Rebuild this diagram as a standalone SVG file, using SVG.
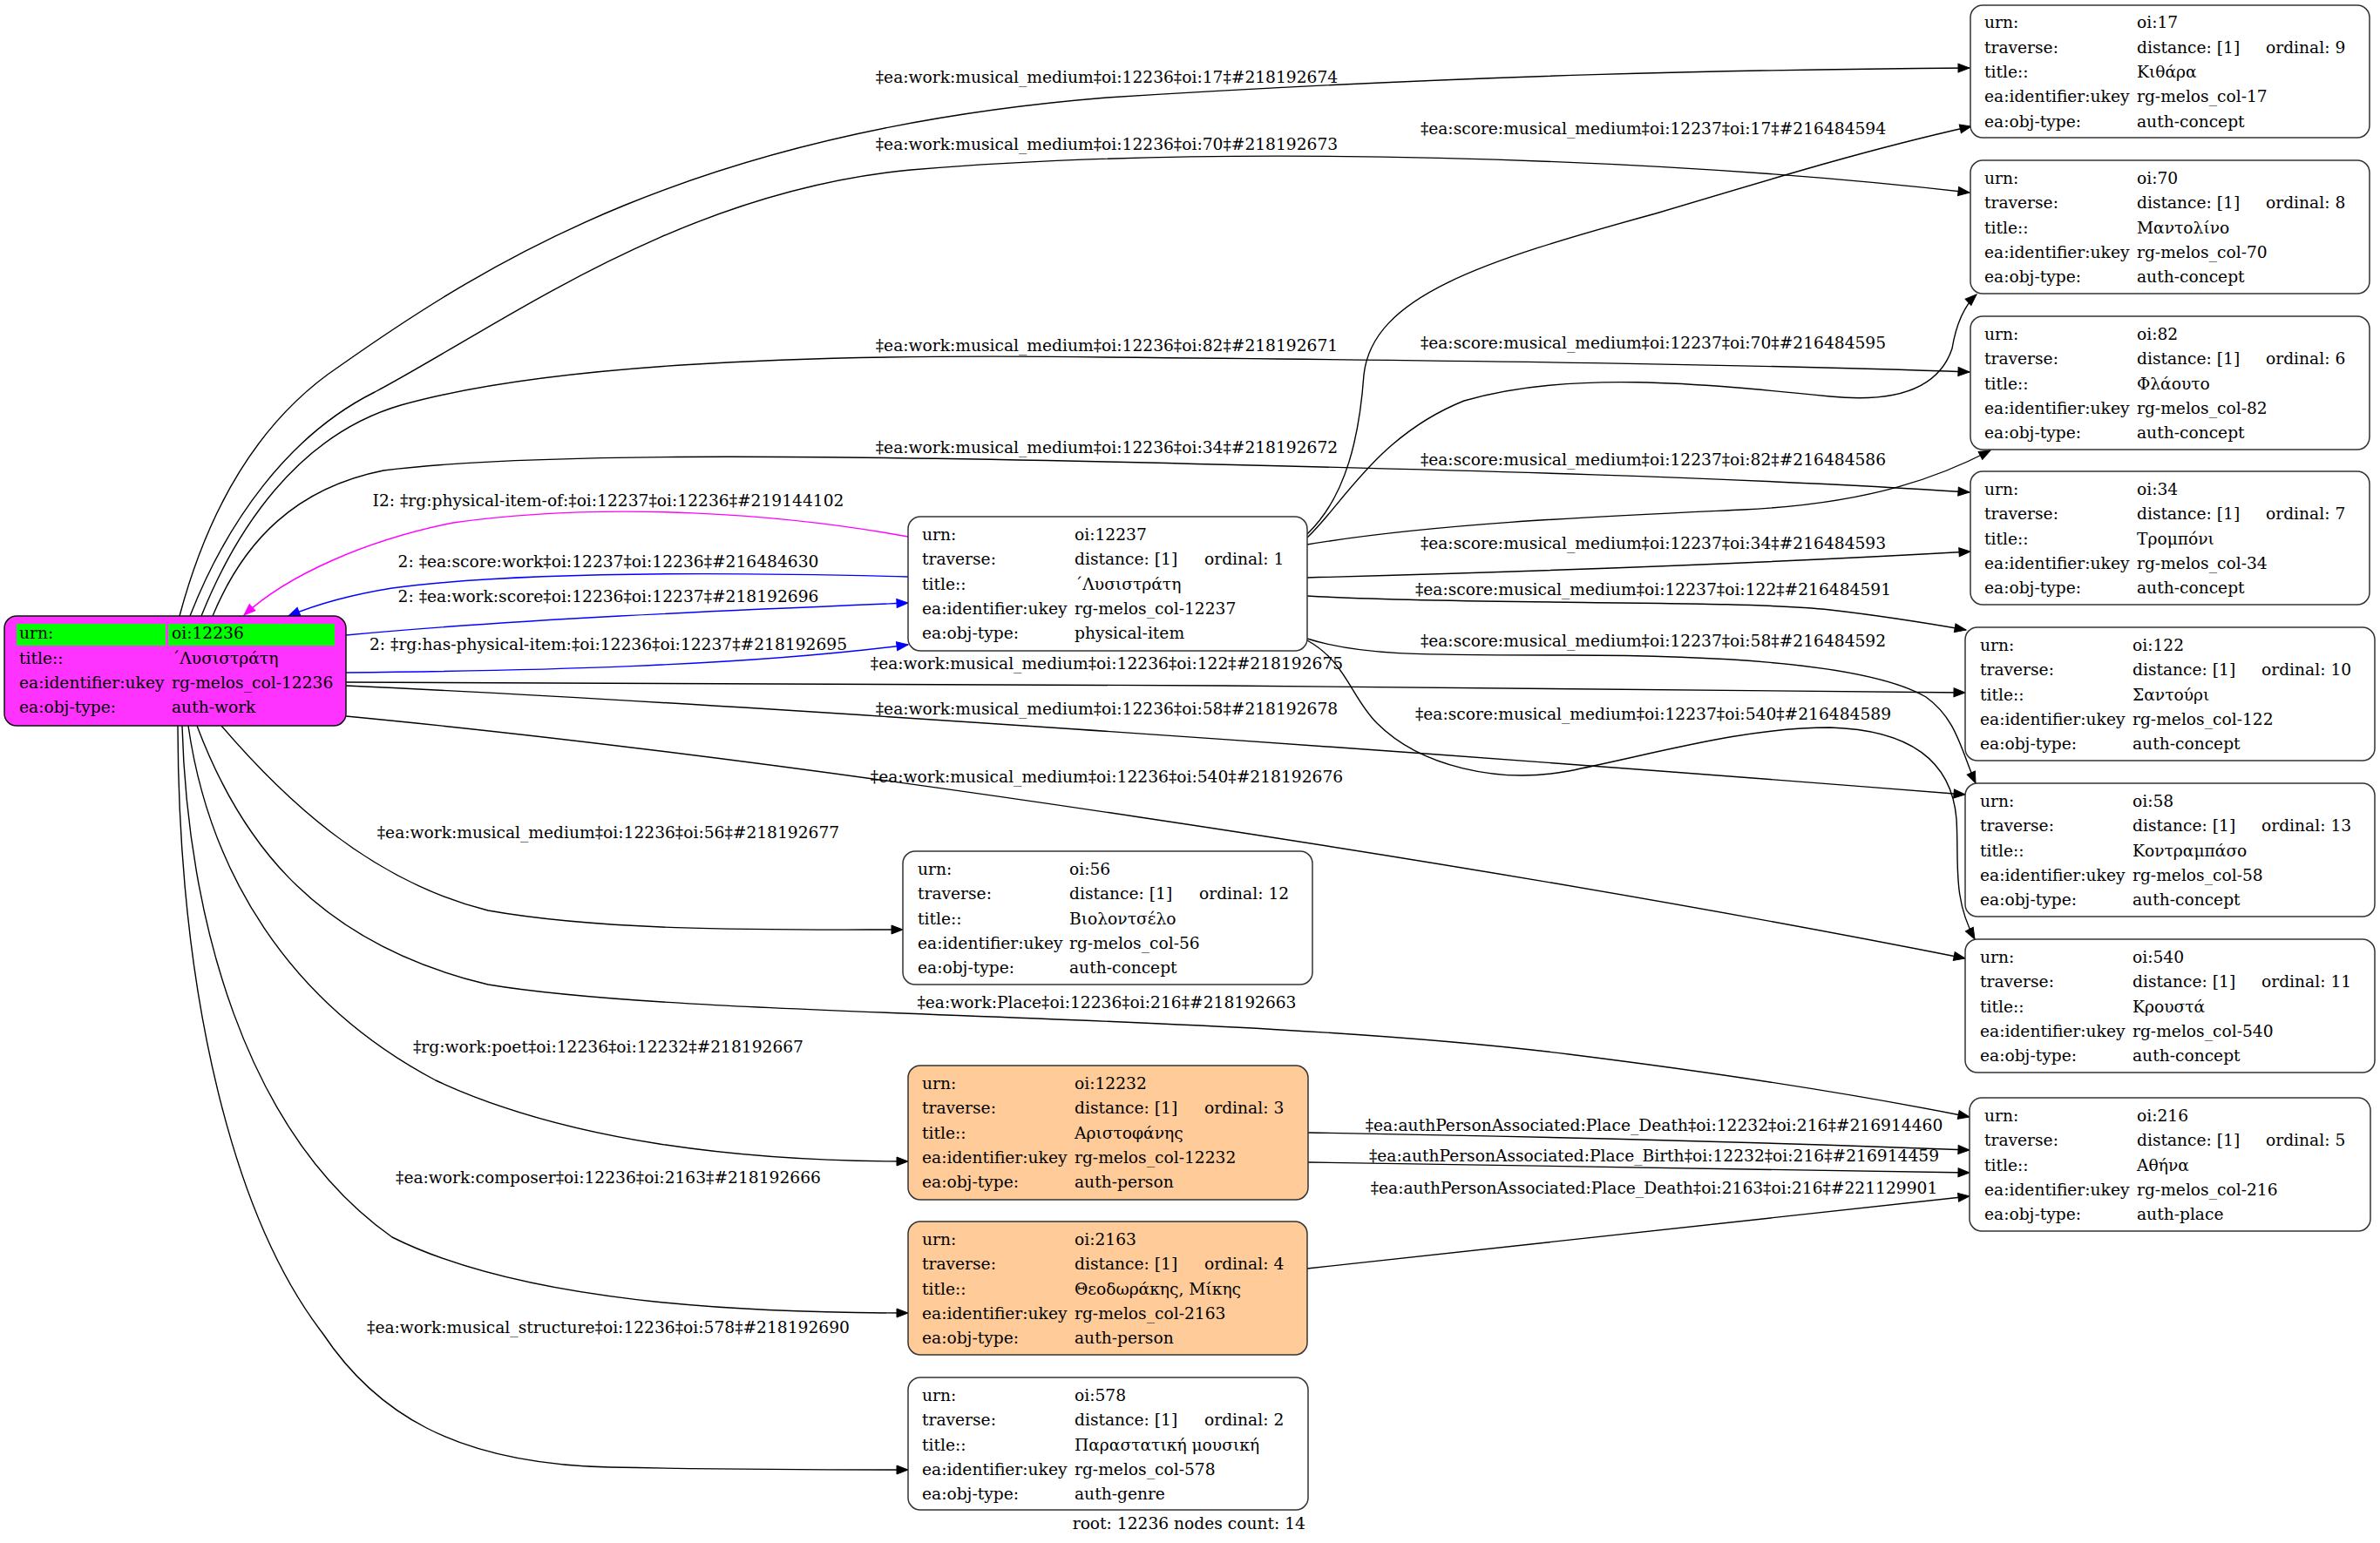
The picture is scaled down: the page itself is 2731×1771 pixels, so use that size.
<svg xmlns="http://www.w3.org/2000/svg" width="2731" height="1771" viewBox="0 0 2731 1771">
<style>
text{font-family:"DejaVu Serif","Liberation Serif",serif;font-size:18.67px;fill:#000}
.box{fill:#fff;stroke:#333;stroke-width:1.5}
.person{fill:#ffcc99;stroke:#333;stroke-width:1.5}
.rootbox{fill:#ff33ff;stroke:#111;stroke-width:1.5}
.e{fill:none;stroke:#000;stroke-width:1.4;marker-end:url(#ab)}
.eb{fill:none;stroke:#0000ff;stroke-width:1.4;marker-end:url(#au)}
.em{fill:none;stroke:#ff00ff;stroke-width:1.4;marker-end:url(#am)}
.l{text-anchor:middle}
</style>
<defs>
<marker id="ab" markerUnits="userSpaceOnUse" markerWidth="16" markerHeight="12" refX="13" refY="5" orient="auto" overflow="visible"><path d="M0,0 L13,5 L0,10 z" fill="#000" stroke="#000" stroke-width="1"/></marker>
<marker id="au" markerUnits="userSpaceOnUse" markerWidth="16" markerHeight="12" refX="13" refY="5" orient="auto" overflow="visible"><path d="M0,0 L13,5 L0,10 z" fill="#0000ff" stroke="#0000ff" stroke-width="1"/></marker>
<marker id="am" markerUnits="userSpaceOnUse" markerWidth="16" markerHeight="12" refX="13" refY="5" orient="auto" overflow="visible"><path d="M0,0 L13,5 L0,10 z" fill="#ff00ff" stroke="#ff00ff" stroke-width="1"/></marker>
</defs>
<rect width="2731" height="1771" fill="#fff"/>

<g id="connectors">
<path class="e" d="M206,707 C240,580 300,480 390,420 C560,300 800,150 1270,112 C1700,85 2000,80 2260,78"/>
<path class="e" d="M218,707 C260,600 330,500 430,450 C580,370 780,220 1045,195 C1400,165 1900,180 2260,221"/>
<path class="e" d="M231,707 C270,610 340,500 460,465 C620,420 900,405 1270,410 C1700,414 2000,418 2260,427"/>
<path class="e" d="M244,707 C280,620 340,560 440,540 C600,520 900,522 1270,530 C1700,540 2000,548 2260,565"/>
<path class="e" d="M397,783 C900,784 1700,787 2255,795"/>
<path class="e" d="M397,787 C800,805 1600,860 2255,912"/>
<path class="e" d="M397,822 C900,870 1700,990 2255,1100"/>
<path class="e" d="M254,833 C320,910 420,1010 560,1045 C700,1070 900,1067 1036,1067"/>
<path class="e" d="M226,833 C270,950 350,1080 560,1130 C800,1170 1400,1160 1800,1210 C2000,1235 2150,1260 2260,1282"/>
<path class="e" d="M216,833 C240,1000 330,1150 500,1240 C650,1310 850,1333 1042,1333"/>
<path class="e" d="M209,833 C215,1050 280,1300 450,1420 C600,1495 850,1507 1042,1507"/>
<path class="e" d="M204,833 C205,1150 270,1400 370,1530 C430,1620 520,1680 700,1684 C850,1687 950,1687 1042,1687"/>
<path class="em" d="M1042,616 C900,590 700,575 520,600 C420,620 330,660 280,706"/>
<path class="eb" d="M1042,662 C850,657 600,655 450,675 C400,683 360,695 331,707"/>
<path class="eb" d="M397,729 C600,710 850,700 1042,692"/>
<path class="eb" d="M397,772 C600,770 850,765 1042,740"/>
<path class="e" d="M1500,613 C1545,570 1560,500 1565,430 C1575,340 1700,300 1900,245 C2050,200 2150,170 2262,145"/>
<path class="e" d="M1500,617 C1540,580 1580,500 1680,460 C1800,425 1950,440 2100,455 C2200,465 2230,430 2240,400 C2245,370 2255,350 2268,338"/>
<path class="e" d="M1500,625 C1650,600 1850,592 2000,585 C2150,578 2230,545 2284,517"/>
<path class="e" d="M1500,663 C1800,655 2050,645 2261,633"/>
<path class="e" d="M1500,684 C1700,695 1990,688 2100,700 C2170,708 2210,715 2256,723"/>
<path class="e" d="M1500,733 C1560,752 1620,752 1800,752 C2000,752 2150,765 2210,800 C2245,825 2250,860 2267,899"/>
<path class="e" d="M1500,735 C1545,760 1550,800 1580,830 C1630,880 1720,900 1800,885 C1900,865 2000,835 2100,835 C2200,838 2240,880 2245,940 C2248,990 2240,1030 2266,1078"/>
<path class="e" d="M1501,1300 C1800,1305 2050,1312 2260,1320"/>
<path class="e" d="M1501,1334 C1800,1340 2050,1343 2260,1346"/>
<path class="e" d="M1500,1456 C1800,1425 2050,1395 2260,1373"/>

<text class="l" x="1270" y="95">‡ea:work:musical_medium‡oi:12236‡oi:17‡#218192674</text>
<text class="l" x="1270" y="172">‡ea:work:musical_medium‡oi:12236‡oi:70‡#218192673</text>
<text class="l" x="1270" y="403">‡ea:work:musical_medium‡oi:12236‡oi:82‡#218192671</text>
<text class="l" x="1270" y="520">‡ea:work:musical_medium‡oi:12236‡oi:34‡#218192672</text>
<text class="l" x="1270" y="768">‡ea:work:musical_medium‡oi:12236‡oi:122‡#218192675</text>
<text class="l" x="1270" y="820">‡ea:work:musical_medium‡oi:12236‡oi:58‡#218192678</text>
<text class="l" x="1270" y="898">‡ea:work:musical_medium‡oi:12236‡oi:540‡#218192676</text>
<text class="l" x="698" y="962">‡ea:work:musical_medium‡oi:12236‡oi:56‡#218192677</text>
<text class="l" x="1270" y="1157">‡ea:work:Place‡oi:12236‡oi:216‡#218192663</text>
<text class="l" x="698" y="1208">‡rg:work:poet‡oi:12236‡oi:12232‡#218192667</text>
<text class="l" x="698" y="1358">‡ea:work:composer‡oi:12236‡oi:2163‡#218192666</text>
<text class="l" x="698" y="1530">‡ea:work:musical_structure‡oi:12236‡oi:578‡#218192690</text>
<text class="l" x="698" y="581">I2: ‡rg:physical-item-of:‡oi:12237‡oi:12236‡#219144102</text>
<text class="l" x="698" y="651">2: ‡ea:score:work‡oi:12237‡oi:12236‡#216484630</text>
<text class="l" x="698" y="691">2: ‡ea:work:score‡oi:12236‡oi:12237‡#218192696</text>
<text class="l" x="698" y="746">2: ‡rg:has-physical-item:‡oi:12236‡oi:12237‡#218192695</text>
<text class="l" x="1897" y="154">‡ea:score:musical_medium‡oi:12237‡oi:17‡#216484594</text>
<text class="l" x="1897" y="400">‡ea:score:musical_medium‡oi:12237‡oi:70‡#216484595</text>
<text class="l" x="1897" y="534">‡ea:score:musical_medium‡oi:12237‡oi:82‡#216484586</text>
<text class="l" x="1897" y="630">‡ea:score:musical_medium‡oi:12237‡oi:34‡#216484593</text>
<text class="l" x="1897" y="683">‡ea:score:musical_medium‡oi:12237‡oi:122‡#216484591</text>
<text class="l" x="1897" y="742">‡ea:score:musical_medium‡oi:12237‡oi:58‡#216484592</text>
<text class="l" x="1897" y="826">‡ea:score:musical_medium‡oi:12237‡oi:540‡#216484589</text>
<text class="l" x="1898" y="1298">‡ea:authPersonAssociated:Place_Death‡oi:12232‡oi:216‡#216914460</text>
<text class="l" x="1898" y="1333">‡ea:authPersonAssociated:Place_Birth‡oi:12232‡oi:216‡#216914459</text>
<text class="l" x="1898" y="1370">‡ea:authPersonAssociated:Place_Death‡oi:2163‡oi:216‡#221129901</text>
</g>

<g id="n12236" transform="translate(5,707)">
<rect class="rootbox" x="0" y="0" width="392" height="126" rx="14"/>
<rect x="14" y="9" width="171" height="25" fill="#00ff00"/>
<rect x="188" y="9" width="191" height="25" fill="#00ff00"/>
<text x="17" y="26">urn:</text><text x="192" y="26">oi:12236</text>
<text x="17" y="55">title::</text><text x="192" y="55">΄Λυσιστράτη</text>
<text x="17" y="83">ea:identifier:ukey</text><text x="192" y="83">rg-melos_col-12236</text>
<text x="17" y="111">ea:obj-type:</text><text x="192" y="111">auth-work</text>
</g>

<g id="n12237" transform="translate(1042,593)">
<rect class="box" width="458" height="154" rx="14"/>
<text x="16" y="27">urn:</text><text x="191" y="27">oi:12237</text>
<text x="16" y="55">traverse:</text><text x="191" y="55">distance: [1]</text><text x="340" y="55">ordinal: 1</text>
<text x="16" y="84">title::</text><text x="191" y="84">΄Λυσιστράτη</text>
<text x="16" y="112">ea:identifier:ukey</text><text x="191" y="112">rg-melos_col-12237</text>
<text x="16" y="140">ea:obj-type:</text><text x="191" y="140">physical-item</text>
</g>

<g id="n17" transform="translate(2261,6)">
<rect class="box" width="458" height="152" rx="14"/>
<text x="16" y="26">urn:</text><text x="191" y="26">oi:17</text>
<text x="16" y="54.5">traverse:</text><text x="191" y="54.5">distance: [1]</text><text x="339" y="54.5">ordinal: 9</text>
<text x="16" y="83">title::</text><text x="191" y="83">Κιθάρα</text>
<text x="16" y="111">ea:identifier:ukey</text><text x="191" y="111">rg-melos_col-17</text>
<text x="16" y="139.5">ea:obj-type:</text><text x="191" y="139.5">auth-concept</text>
</g>

<g id="n70" transform="translate(2261,184)">
<rect class="box" width="458" height="153" rx="14"/>
<text x="16" y="26.5">urn:</text><text x="191" y="26.5">oi:70</text>
<text x="16" y="55">traverse:</text><text x="191" y="55">distance: [1]</text><text x="339" y="55">ordinal: 8</text>
<text x="16" y="83.5">title::</text><text x="191" y="83.5">Μαντολίνο</text>
<text x="16" y="112">ea:identifier:ukey</text><text x="191" y="112">rg-melos_col-70</text>
<text x="16" y="140">ea:obj-type:</text><text x="191" y="140">auth-concept</text>
</g>

<g id="n82" transform="translate(2261,363)">
<rect class="box" width="458" height="153" rx="14"/>
<text x="16" y="26.5">urn:</text><text x="191" y="26.5">oi:82</text>
<text x="16" y="55">traverse:</text><text x="191" y="55">distance: [1]</text><text x="339" y="55">ordinal: 6</text>
<text x="16" y="83.5">title::</text><text x="191" y="83.5">Φλάουτο</text>
<text x="16" y="112">ea:identifier:ukey</text><text x="191" y="112">rg-melos_col-82</text>
<text x="16" y="140">ea:obj-type:</text><text x="191" y="140">auth-concept</text>
</g>

<g id="n34" transform="translate(2261,541)">
<rect class="box" width="458" height="153" rx="14"/>
<text x="16" y="26.5">urn:</text><text x="191" y="26.5">oi:34</text>
<text x="16" y="55">traverse:</text><text x="191" y="55">distance: [1]</text><text x="339" y="55">ordinal: 7</text>
<text x="16" y="83.5">title::</text><text x="191" y="83.5">Τρομπόνι</text>
<text x="16" y="112">ea:identifier:ukey</text><text x="191" y="112">rg-melos_col-34</text>
<text x="16" y="140">ea:obj-type:</text><text x="191" y="140">auth-concept</text>
</g>

<g id="n122" transform="translate(2255,720)">
<rect class="box" width="470" height="153" rx="14"/>
<text x="17" y="26.5">urn:</text><text x="192" y="26.5">oi:122</text>
<text x="17" y="55">traverse:</text><text x="192" y="55">distance: [1]</text><text x="340" y="55">ordinal: 10</text>
<text x="17" y="83.5">title::</text><text x="192" y="83.5">Σαντούρι</text>
<text x="17" y="112">ea:identifier:ukey</text><text x="192" y="112">rg-melos_col-122</text>
<text x="17" y="140">ea:obj-type:</text><text x="192" y="140">auth-concept</text>
</g>

<g id="n58" transform="translate(2255,899)">
<rect class="box" width="470" height="153" rx="14"/>
<text x="17" y="26.5">urn:</text><text x="192" y="26.5">oi:58</text>
<text x="17" y="55">traverse:</text><text x="192" y="55">distance: [1]</text><text x="340" y="55">ordinal: 13</text>
<text x="17" y="83.5">title::</text><text x="192" y="83.5">Κοντραμπάσο</text>
<text x="17" y="112">ea:identifier:ukey</text><text x="192" y="112">rg-melos_col-58</text>
<text x="17" y="140">ea:obj-type:</text><text x="192" y="140">auth-concept</text>
</g>

<g id="n540" transform="translate(2255,1078)">
<rect class="box" width="470" height="153" rx="14"/>
<text x="17" y="26.5">urn:</text><text x="192" y="26.5">oi:540</text>
<text x="17" y="55">traverse:</text><text x="192" y="55">distance: [1]</text><text x="340" y="55">ordinal: 11</text>
<text x="17" y="83.5">title::</text><text x="192" y="83.5">Κρουστά</text>
<text x="17" y="112">ea:identifier:ukey</text><text x="192" y="112">rg-melos_col-540</text>
<text x="17" y="140">ea:obj-type:</text><text x="192" y="140">auth-concept</text>
</g>

<g id="n216" transform="translate(2260,1260)">
<rect class="box" width="460" height="153" rx="14"/>
<text x="17" y="26.5">urn:</text><text x="192" y="26.5">oi:216</text>
<text x="17" y="55">traverse:</text><text x="192" y="55">distance: [1]</text><text x="340" y="55">ordinal: 5</text>
<text x="17" y="83.5">title::</text><text x="192" y="83.5">Αθήνα</text>
<text x="17" y="112">ea:identifier:ukey</text><text x="192" y="112">rg-melos_col-216</text>
<text x="17" y="140">ea:obj-type:</text><text x="192" y="140">auth-place</text>
</g>

<g id="n56" transform="translate(1036,977)">
<rect class="box" width="470" height="153" rx="14"/>
<text x="17" y="26.5">urn:</text><text x="191" y="26.5">oi:56</text>
<text x="17" y="55">traverse:</text><text x="191" y="55">distance: [1]</text><text x="340" y="55">ordinal: 12</text>
<text x="17" y="83.5">title::</text><text x="191" y="83.5">Βιολοντσέλο</text>
<text x="17" y="112">ea:identifier:ukey</text><text x="191" y="112">rg-melos_col-56</text>
<text x="17" y="140">ea:obj-type:</text><text x="191" y="140">auth-concept</text>
</g>

<g id="n12232" transform="translate(1042,1223)">
<rect class="person" width="459" height="154" rx="14"/>
<text x="16" y="27">urn:</text><text x="191" y="27">oi:12232</text>
<text x="16" y="55">traverse:</text><text x="191" y="55">distance: [1]</text><text x="340" y="55">ordinal: 3</text>
<text x="16" y="84">title::</text><text x="191" y="84">Αριστοφάνης</text>
<text x="16" y="112">ea:identifier:ukey</text><text x="191" y="112">rg-melos_col-12232</text>
<text x="16" y="140">ea:obj-type:</text><text x="191" y="140">auth-person</text>
</g>

<g id="n2163" transform="translate(1042,1402)">
<rect class="person" width="458" height="153" rx="14"/>
<text x="16" y="27">urn:</text><text x="191" y="27">oi:2163</text>
<text x="16" y="55">traverse:</text><text x="191" y="55">distance: [1]</text><text x="340" y="55">ordinal: 4</text>
<text x="16" y="84">title::</text><text x="191" y="84">Θεοδωράκης, Μίκης</text>
<text x="16" y="112">ea:identifier:ukey</text><text x="191" y="112">rg-melos_col-2163</text>
<text x="16" y="140">ea:obj-type:</text><text x="191" y="140">auth-person</text>
</g>

<g id="n578" transform="translate(1042,1581)">
<rect class="box" width="459" height="152" rx="14"/>
<text x="16" y="26.5">urn:</text><text x="191" y="26.5">oi:578</text>
<text x="16" y="55">traverse:</text><text x="191" y="55">distance: [1]</text><text x="340" y="55">ordinal: 2</text>
<text x="16" y="83.5">title::</text><text x="191" y="83.5">Παραστατική μουσική</text>
<text x="16" y="112">ea:identifier:ukey</text><text x="191" y="112">rg-melos_col-578</text>
<text x="16" y="140">ea:obj-type:</text><text x="191" y="140">auth-genre</text>
</g>

<text x="1498" y="1755" text-anchor="end">root: 12236 nodes count: 14</text>
</svg>
